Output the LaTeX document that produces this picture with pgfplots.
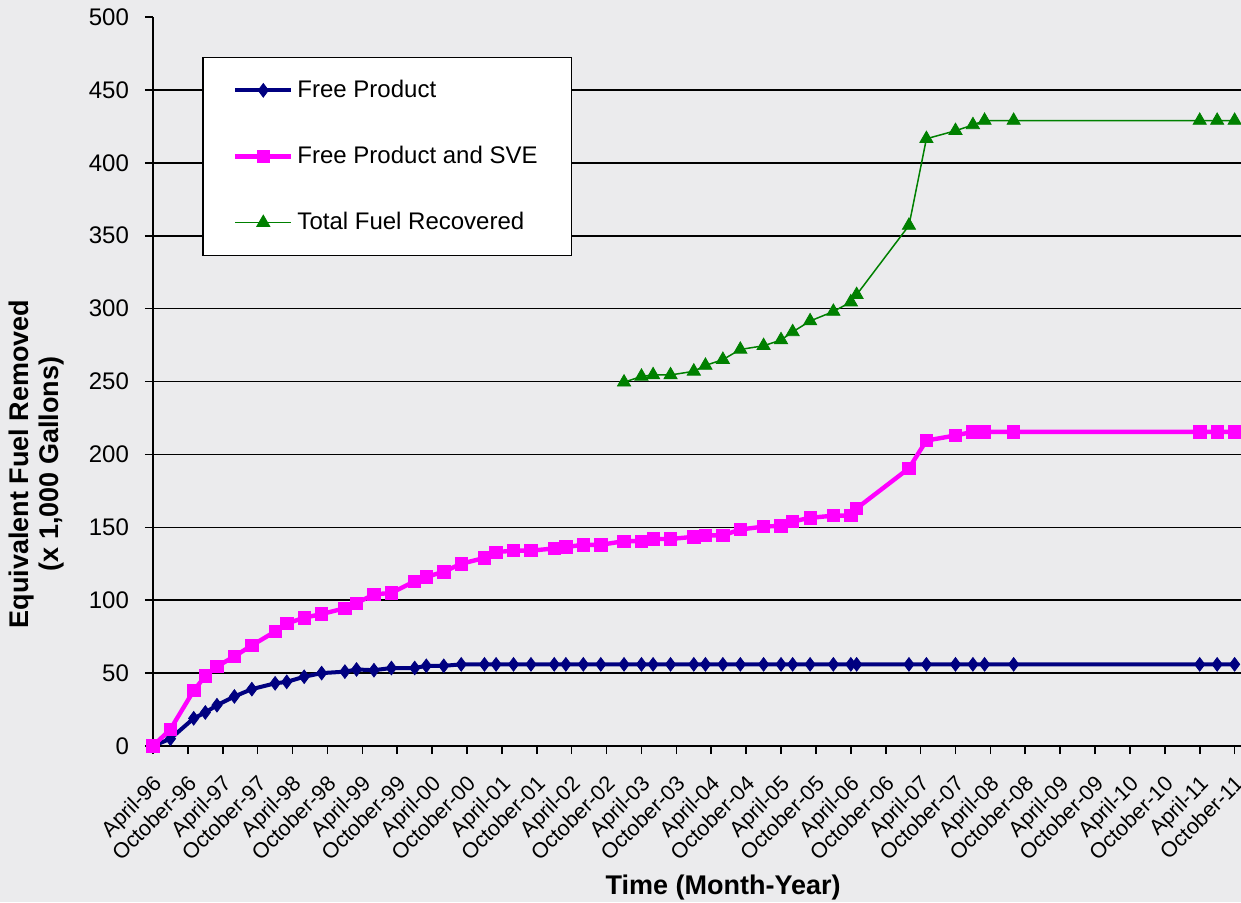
\documentclass[border=0pt]{standalone}
\usepackage{fontspec}
\setmainfont{Liberation Sans}
\usepackage{pgfplots}
\pgfplotsset{compat=1.18}
\usetikzlibrary{backgrounds}
\definecolor{marble}{RGB}{235,235,237}
\definecolor{fpnavy}{RGB}{0,0,128}
\definecolor{svemag}{RGB}{255,0,255}
\definecolor{totgreen}{RGB}{0,128,0}

\begin{document}
\begin{tikzpicture}
\begin{axis}[
	at={(0,0)}, anchor=south west,
	scale only axis,
	width=544pt, height=364.5pt,
	xmin=0, xmax=187.1, ymin=0, ymax=500,
	axis x line*=bottom, axis y line*=left,
	axis line style={black, line width=0.8pt},
	tick align=outside,
	major tick length=4pt,
	tick style={black, line width=0.8pt},
	xtick={0,6,...,186},
	xticklabels={April-96,October-96,April-97,October-97,April-98,October-98,April-99,October-99,April-00,October-00,April-01,October-01,April-02,October-02,April-03,October-03,April-04,October-04,April-05,October-05,April-06,October-06,April-07,October-07,April-08,October-08,April-09,October-09,April-10,October-10,April-11,October-11},
	xticklabel style={rotate=45, anchor=north east, inner sep=0.5pt, xshift=-7pt, yshift=-6pt, font=\fontsize{10.8}{12}\selectfont},
	ytick={0,50,...,450},
	extra y ticks={500},
	extra tick style={grid=none},
	yticklabel style={xshift=-4.5pt, font=\fontsize{12}{14}\selectfont},
	/pgf/number format/assume math mode=true,
	ymajorgrids,
	grid style={black, line width=0.8pt},
	xlabel={Time (Month-Year)},
	xlabel style={at={(axis description cs:0.524,-0.194)}, anchor=center, font=\bfseries\fontsize{13.5}{15}\selectfont},
	ylabel={Equivalent Fuel Removed\\(x 1,000 Gallons)},
	ylabel style={at={(axis description cs:-0.1075,0.387)}, anchor=center, align=center, font=\bfseries\fontsize{13.5}{15}\selectfont},
	legend style={at={(rel axis cs:0.0453,0.9455)}, anchor=north west, draw=black, line width=0.8pt, fill=white,
		font=\fontsize{12}{14}\selectfont, row sep=18.9pt, inner xsep=15pt, inner ysep=9.3pt},
	legend cell align=left,
	legend image code/.code={\draw[mark repeat=2,mark phase=2] plot coordinates {(0pt,0pt) (14pt,0pt) (28pt,0pt)};},
]

% Free Product
\addplot[color=fpnavy, line width=2pt, mark=diamond*, mark size=3.4pt, mark options={solid, line width=0.4pt}] coordinates {
(0,0) (3,5) (7,19) (9,23) (11,28) (14,34) (17,39) (21,43) (23,44) (26,47.5)
(29,50) (33,51) (35,52.5) (38,52) (41,53.5) (45,53.5) (47,55) (50,55) (53,56) (57,56)
(59,56) (62,56) (65,56) (69,56) (71,56) (74,56) (77,56) (81,56) (84,56) (86,56)
(89,56) (93,56) (95,56) (98,56) (101,56) (105,56) (108,56) (110,56) (113,56) (117,56)
(120,56) (121,56) (130,56) (133,56) (138,56) (141,56) (143,56) (148,56) (180,56) (183,56) (186,56)
};
\addlegendentry{Free Product}

% Free Product and SVE
\addplot[color=svemag, line width=2.2pt, mark=square*, mark size=3.1pt, mark options={solid, line width=0.4pt}] coordinates {
(0,0) (3,11.5) (7,38) (9,48) (11,54.5) (14,61.5) (17,69) (21,78.5) (23,84) (26,88)
(29,90.5) (33,94.5) (35,98) (38,104) (41,105) (45,113) (47,116) (50,119.5) (53,125) (57,129)
(59,133) (62,134) (65,134) (69,135.5) (71,136.5) (74,138) (77,138) (81,140.5) (84,140.5) (86,142)
(89,142) (93,143.5) (95,144.5) (98,144.5) (101,148.5) (105,150.5) (108,151) (110,154) (113,156.5) (117,158)
(120,158) (121,163) (130,190.5) (133,209.5) (138,213) (141,215.5) (143,215.5) (148,215.5) (180,215.5) (183,215.5) (186,215.5)
};
\addlegendentry{Free Product and SVE}

% Total Fuel Recovered
\addplot[color=totgreen, line width=0.75pt, mark=triangle*, mark size=3.8pt, mark options={solid, line width=0.4pt}] coordinates {
(81,249.5) (84,253.5) (86,254.5) (89,254.5) (93,257) (95,261) (98,265) (101,272) (105,274.5) (108,278.5)
(110,284) (113,291.5) (117,298) (120,304.5) (121,309.5) (130,357) (133,416.5) (138,422) (141,426) (143,429)
(148,429) (180,429) (183,429) (186,429)
};
\addlegendentry{Total Fuel Recovered}

\end{axis}
\begin{scope}[on background layer]
\fill[marble] (-76.5pt,-78pt) rectangle (544pt,373pt);
\end{scope}
\pgfresetboundingbox
\useasboundingbox (-76.5pt,-78pt) rectangle (544pt,373pt);
\end{tikzpicture}
\end{document}
